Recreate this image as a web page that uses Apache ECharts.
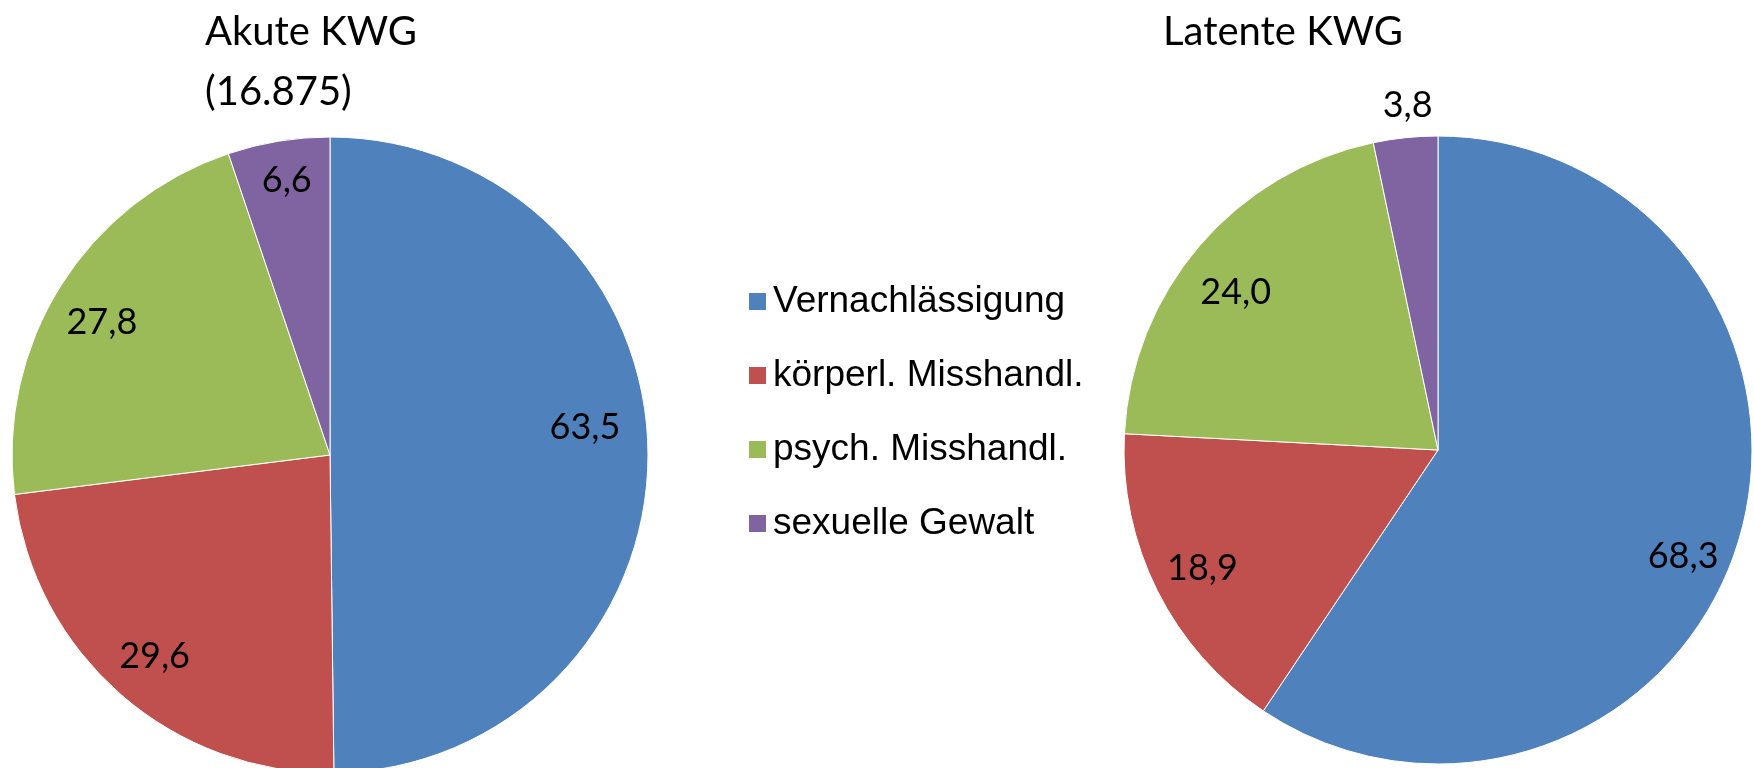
<!DOCTYPE html>
<html>
<head>
<meta charset="utf-8">
<title>Akute und latente KWG</title>
<script src="https://cdn.jsdelivr.net/npm/echarts@6/dist/echarts.min.js"></script>
<style>
  html, body { margin: 0; padding: 0; background: #fff; }
  #chart { width: 1754px; height: 768px; }
</style>
</head>
<body>
<div id="chart"></div>
<script>
const categories = ['Vernachlässigung', 'körperl. Misshandl.', 'psych. Misshandl.', 'sexuelle Gewalt'];
const akuteValues = [63.5, 29.6, 27.8, 6.6];
const latenteValues = [68.3, 18.9, 24.0, 3.8];
const colors = ['#4F81BD', '#C0504D', '#9BBB59', '#8064A2'];

const myChart = echarts.init(document.getElementById('chart'));

function fmt(v) {
  return v.toFixed(1).replace('.', ',');
}

function pieData(values) {
  return values.map(function (v, i) {
    return { name: categories[i], value: v };
  });
}

// invisible ring used only to place the value labels at ~0.83 r
function labelData(values, offsets) {
  return values.map(function (v, i) {
    const item = { name: categories[i], value: v };
    if (offsets[i]) {
      item.label = { offset: offsets[i] };
    }
    return item;
  });
}

const titleStyle = {
  fontFamily: 'Lato',
  fontSize: 40,
  fontWeight: 'normal',
  lineHeight: 60,
  color: '#000'
};

const valueLabel = {
  show: true,
  position: 'inside',
  fontFamily: 'Lato',
  fontSize: 36,
  color: '#000',
  formatter: function (p) { return fmt(p.value); }
};

const option = {
  color: colors,
  animation: false,
  title: [
    { text: 'Akute KWG\n(16.875)', left: 205, top: 2, padding: 0, textStyle: titleStyle },
    { text: 'Latente KWG', left: 1163, top: 2, padding: 0, textStyle: titleStyle }
  ],
  legend: {
    orient: 'vertical',
    left: 747,
    top: 283,
    icon: 'rect',
    itemWidth: 19,
    itemHeight: 19,
    itemGap: 37,
    padding: 0,
    data: categories,
    textStyle: {
      fontFamily: 'Liberation Sans',
      fontSize: 37,
      lineHeight: 37,
      color: '#000',
      padding: [0, 0, 0, 1]
    }
  },
  series: [
    {
      name: 'Akute KWG',
      type: 'pie',
      center: [330, 455],
      radius: 318,
      startAngle: 90,
      label: { show: false },
      labelLine: { show: false },
      itemStyle: { borderColor: '#fff', borderWidth: 1 },
      emphasis: { scale: false },
      data: pieData(akuteValues)
    },
    {
      name: 'Latente KWG',
      type: 'pie',
      center: [1438, 450],
      radius: 314,
      startAngle: 90,
      label: { show: false },
      labelLine: { show: false },
      itemStyle: { borderColor: '#fff', borderWidth: 1 },
      emphasis: { scale: false },
      data: pieData(latenteValues)
    },
    {
      name: 'Akute KWG Werte',
      type: 'pie',
      center: [330, 455],
      radius: [210, 318],
      startAngle: 90,
      silent: true,
      legendHoverLink: false,
      itemStyle: { color: 'rgba(0,0,0,0)', borderWidth: 0 },
      label: valueLabel,
      labelLine: { show: false },
      data: labelData(akuteValues, [[-12, -26], null, [-2, 9], [0, -11]])
    },
    {
      name: 'Latente KWG Werte',
      type: 'pie',
      center: [1438, 450],
      radius: [207, 314],
      startAngle: 90,
      silent: true,
      legendHoverLink: false,
      itemStyle: { color: 'rgba(0,0,0,0)', borderWidth: 0 },
      label: valueLabel,
      labelLine: { show: false },
      data: labelData(latenteValues, [[-7, 30], null, [-2, 14], [-3, -83]])
    }
  ]
};

myChart.setOption(option);

window.addEventListener('resize', function () {
  myChart.resize();
});
</script>
</body>
</html>
